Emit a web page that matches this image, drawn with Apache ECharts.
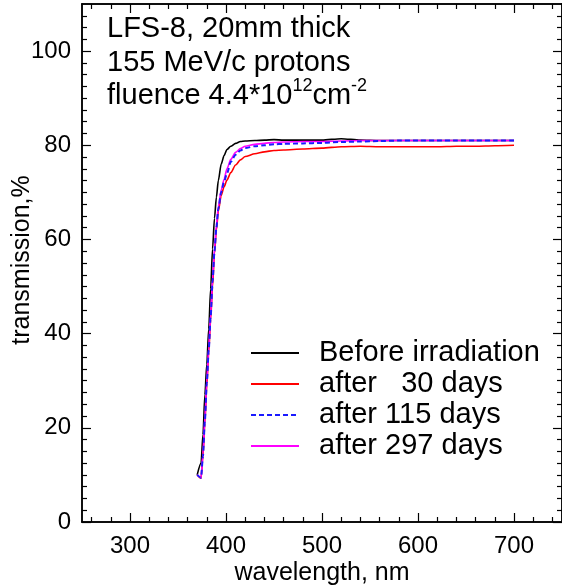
<!DOCTYPE html>
<html><head><meta charset="utf-8">
<script src="https://cdn.jsdelivr.net/npm/echarts@6/dist/echarts.min.js"></script>
<style>html,body{margin:0;padding:0;background:#fff}#c{width:562px;height:585px}</style>
</head><body><div id="c"></div>
<script>
// ---- data ----
const wavelengths = [370, 374, 376, 378, 380, 382, 384, 386, 388, 390, 392, 395, 398, 401, 405, 410, 415, 420, 430, 440, 450, 460, 480, 500, 520, 540, 560, 580, 600, 620, 640, 660, 680, 700];
const beforeIrradiation = [10.0, 12.5, 18.5, 27, 33.5, 41, 49.5, 58, 64.5, 69, 72.5, 76, 77.8, 79.1, 79.8, 80.4, 80.8, 80.9, 81.0, 81.1, 81.2, 81.1, 81.1, 81.1, 81.4, 81.1, 81.0, 81.0, 81.0, 81.0, 81.0, 81.0, 81.0, 81.0];
const after30days = [10.0, 9.3, 14, 21, 29, 36, 43, 50, 57, 62, 66, 69.3, 71.2, 72.6, 74.2, 75.8, 76.9, 77.6, 78.2, 78.6, 78.9, 79.0, 79.2, 79.4, 79.7, 79.8, 79.7, 79.7, 79.7, 79.7, 79.8, 79.8, 79.9, 80.0];
const after115days = [10.0, 9.4, 14, 21.5, 29.5, 36.5, 43.5, 51, 57.5, 62.5, 66.5, 70, 72.3, 74, 76.5, 78, 78.9, 79.4, 79.8, 80.0, 80.2, 80.3, 80.4, 80.5, 80.7, 80.8, 80.9, 81.0, 81.0, 81.0, 81.0, 81.0, 81.0, 81.0];
const after297days = [10.0, 9.4, 14.5, 22, 30, 37, 44, 51.5, 58, 63, 67, 70.5, 72.8, 75, 77, 78.5, 79.3, 79.8, 80.2, 80.4, 80.6, 80.7, 80.8, 80.8, 80.9, 81.0, 81.0, 81.0, 81.0, 81.0, 81.0, 81.0, 81.0, 81.0];
const seriesNames = ['Before irradiation', 'after   30 days', 'after 115 days', 'after 297 days'];
const xMajorTicks = [300, 400, 500, 600, 700];
const xMinorTicks = [260, 280, 320, 340, 360, 380, 420, 440, 460, 480, 520, 540, 560, 580, 620, 640, 660, 680, 720, 740];
const yMajorTicks = [0, 20, 40, 60, 80, 100];
const yMinorTicks = [2.5, 5, 7.5, 10, 12.5, 15, 17.5, 22.5, 25, 27.5, 30, 32.5, 35, 37.5, 42.5, 45, 47.5, 50, 52.5, 55, 57.5, 62.5, 65, 67.5, 70, 72.5, 75, 77.5, 82.5, 85, 87.5, 90, 92.5, 95, 97.5, 102.5, 105, 107.5];
const annotationLines = ['LFS-8, 20mm thick', '155 MeV/c protons'];
const xName = 'wavelength, nm';
const yName = 'transmission,%';

// ---- chart ----
const FONT = 'Liberation Sans';
const chart = echarts.init(document.getElementById('c'), null, {renderer: 'canvas'});
function pairs(ys) { return wavelengths.map((w, i) => [w, ys[i]]); }
const axisLine = {show: true, onZero: false, lineStyle: {color: '#000', width: 1.5}};
function xAx(pos, major, showLabel) {
  return {
    type: 'value', position: pos, min: 250, max: 750,
    axisLine: axisLine, splitLine: {show: false},
    axisTick: {show: true, inside: true, length: major ? 9 : 5, customValues: major ? xMajorTicks : xMinorTicks,
               lineStyle: {color: '#000', width: 1.2}},
    axisLabel: {show: showLabel, customValues: xMajorTicks, margin: 12, color: '#000', fontFamily: FONT, fontSize: 24}
  };
}
function yAx(pos, major, showLabel) {
  return {
    type: 'value', position: pos, min: 0, max: 110,
    axisLine: axisLine, splitLine: {show: false},
    axisTick: {show: true, inside: true, length: major ? 9 : 5, customValues: major ? yMajorTicks : yMinorTicks,
               lineStyle: {color: '#000', width: 1.2}},
    axisLabel: {show: showLabel, customValues: yMajorTicks, margin: 11, color: '#000', fontFamily: FONT, fontSize: 24}
  };
}
const lineBase = {type: 'line', showSymbol: false, symbol: 'none', smooth: 0.25, smoothMonotone: 'x', xAxisIndex: 0, yAxisIndex: 0};
const option = {
  backgroundColor: '#fff',
  animation: false,
  grid: {left: 82, right: -2, top: 4, bottom: 63},
  xAxis: [xAx('bottom', true, true), xAx('bottom', false, false), xAx('top', true, false), xAx('top', false, false)],
  yAxis: [yAx('left', true, true), yAx('left', false, false), yAx('right', true, false), yAx('right', false, false)],
  legend: {
    orient: 'vertical', left: 250, top: 338, padding: 0, itemWidth: 48, itemHeight: 14, itemGap: 1,
    data: seriesNames,
    itemStyle: {opacity: 0},
    textStyle: {fontFamily: FONT, fontSize: 29, lineHeight: 30, color: '#000', padding: [0, 0, 0, 15]}
  },
  series: [
    Object.assign({}, lineBase, {name: seriesNames[0], data: pairs(beforeIrradiation), z: 3,
      lineStyle: {color: '#000', width: 1.6}, itemStyle: {color: '#000'}}),
    Object.assign({}, lineBase, {name: seriesNames[1], data: pairs(after30days), z: 3,
      lineStyle: {color: '#ff0000', width: 1.6}, itemStyle: {color: '#ff0000'}}),
    Object.assign({}, lineBase, {name: seriesNames[2], data: pairs(after115days), z: 5,
      lineStyle: {color: '#1a1aff', width: 2, type: [5, 3]}, itemStyle: {color: '#1a1aff'}}),
    Object.assign({}, lineBase, {name: seriesNames[3], data: pairs(after297days), z: 4,
      lineStyle: {color: '#ff00ff', width: 1.6}, itemStyle: {color: '#ff00ff'}})
  ],
  graphic: [
    {type: 'text', left: 107, top: 14, style: {text: annotationLines[0], font: '29px "' + FONT + '"', fill: '#000'}},
    {type: 'text', left: 107, top: 48, style: {text: annotationLines[1], font: '29px "' + FONT + '"', fill: '#000'}},
    {type: 'text', left: 107, top: 77, style: {
      text: '{n|fluence 4.4*10}{s|12}{n|cm}{s|-2}', fill: '#000',
      rich: {n: {fontFamily: FONT, fontSize: 29, lineHeight: 33, verticalAlign: 'bottom'},
             s: {fontFamily: FONT, fontSize: 18, lineHeight: 33, verticalAlign: 'top', padding: [0, 0, 0, 0]}}}},
    {type: 'text', x: 322, y: 573, style: {text: xName, font: '25px "' + FONT + '"', fill: '#000', align: 'center', verticalAlign: 'middle'}},
    {type: 'text', x: 22, y: 260, rotation: Math.PI / 2, style: {text: yName, font: '25px "' + FONT + '"', fill: '#000', align: 'center', verticalAlign: 'middle'}}
  ]
};
chart.setOption(option);
</script></body></html>
